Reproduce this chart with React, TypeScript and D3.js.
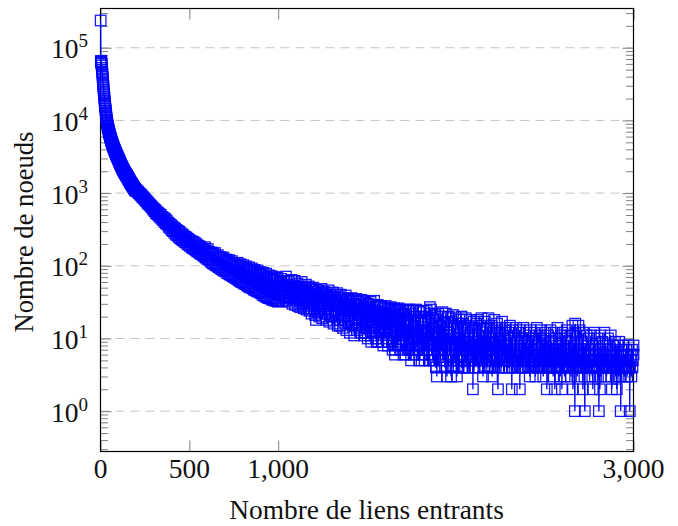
import { useEffect, useRef } from "react";
import * as d3 from "d3";

const WIDTH = 678;
const HEIGHT = 526;
const BLUE = "#0000ff";
const SERIF = "'Liberation Serif', 'Times New Roman', serif";

// degrees 1..200, one by one
const headCounts = [
  237000, 65000, 66000, 62000, 64000, 60000, 57000, 53000, 50000, 46000,
  43000, 40000, 37000, 34500, 32000, 29800, 27800, 26000, 24300, 22800,
  21400, 20200, 19000, 17900, 16900, 16000, 15200, 14400, 13700, 13000,
  12400, 11800, 11300, 10800, 10300, 9900, 9500, 9150, 8850, 8550,
  8300, 8100, 7850, 7650, 7450, 7250, 7100, 6950, 6800, 6650,
  6500, 6350, 6200, 6050, 5950, 5800, 5700, 5600, 5480, 5380,
  5280, 5190, 5080, 5000, 4910, 4830, 4740, 4670, 4590, 4510,
  4440, 4370, 4300, 4240, 4170, 4110, 4050, 3990, 3930, 3880,
  3820, 3770, 3710, 3660, 3610, 3560, 3510, 3470, 3420, 3380,
  3330, 3290, 3250, 3210, 3170, 3130, 3090, 3050, 3010, 2980,
  2930, 2900, 2850, 2820, 2770, 2750, 2700, 2680, 2630, 2600,
  2570, 2530, 2510, 2460, 2450, 2400, 2390, 2350, 2340, 2300,
  2270, 2250, 2210, 2200, 2150, 2140, 2110, 2090, 2080, 2050,
  2030, 2000, 1990, 1960, 1950, 1920, 1910, 1890, 1880, 1860,
  1840, 1830, 1800, 1790, 1770, 1760, 1740, 1730, 1720, 1700,
  1680, 1670, 1640, 1640, 1610, 1600, 1590, 1560, 1550, 1530,
  1520, 1500, 1490, 1470, 1460, 1440, 1430, 1420, 1400, 1390,
  1380, 1370, 1350, 1340, 1330, 1320, 1300, 1300, 1280, 1270,
  1260, 1250, 1240, 1220, 1220, 1200, 1200, 1180, 1170, 1170,
  1150, 1150, 1130, 1130, 1110, 1120, 1090, 1100, 1080, 1090,
];

// degrees 204..1000, every 4
const midCounts = [
  1080, 1050, 1040, 1000, 985, 960, 935, 925, 880, 875,
  850, 825, 815, 780, 775, 735, 740, 705, 695, 680,
  665, 640, 635, 595, 610, 565, 585, 530, 560, 510,
  535, 490, 515, 465, 500, 445, 470, 425, 455, 400,
  440, 385, 420, 370, 395, 345, 380, 330, 365, 310,
  350, 300, 335, 285, 325, 270, 312, 262, 300, 250,
  295, 240, 280, 230, 270, 225, 262, 215, 250, 210,
  245, 200, 235, 195, 228, 188, 220, 180, 215, 175,
  212, 170, 205, 165, 198, 158, 190, 155, 186, 148,
  180, 145, 172, 140, 168, 135, 180, 130, 160, 125,
  170, 122, 155, 118, 148, 112, 152, 108, 145, 106,
  150, 102, 135, 100, 140, 96, 128, 94, 132, 90,
  125, 88, 130, 85, 118, 84, 122, 80, 115, 78,
  120, 76, 110, 74, 116, 72, 105, 70, 108, 68,
  100, 66, 110, 64, 98, 62, 105, 60, 95, 59,
  102, 57, 92, 56, 98, 54, 88, 52, 95, 51,
  84, 50, 92, 49, 82, 47, 88, 46, 78, 45,
  86, 44, 76, 43, 82, 42, 74, 40, 80, 39,
  70, 38, 78, 37, 68, 36, 74, 36, 66, 35,
  72, 34, 64, 34, 70, 33, 62, 33, 68, 32,
];

// degrees 1004..3000, every 4
const tailCounts = [
  40, 58, 36, 66, 44, 52, 33, 62, 38, 48, 71, 34, 55, 41, 60, 32, 50, 37, 64,
  30, 54, 40, 62, 29, 47, 35, 57, 28, 44, 52, 27, 38, 60, 30, 46, 26, 50, 34, 55,
  25, 43, 31, 52, 24, 40, 48, 22, 33, 50, 26, 44, 21, 38, 47, 23, 35, 45, 20, 41,
  30, 48, 19, 36, 44, 22, 33, 42, 18, 39, 28, 46, 17, 31, 40, 20, 36, 43, 16, 30,
  38, 21, 34, 42, 15, 29, 37, 18, 40, 24, 33, 14, 36, 20, 30, 39, 13, 27, 35, 17,
  34, 12, 28, 36, 16, 25, 33, 11, 30, 19, 35, 13, 26, 32, 15, 29, 12, 34, 18, 24,
  33, 11, 22, 31, 14, 27, 10, 30, 17, 25, 32, 9, 21, 29, 12, 33, 15, 24, 10, 28,
  29, 9, 20, 27, 12, 28, 16, 23, 8, 26, 14, 28, 10, 22, 26, 9, 25, 13, 27, 18,
  24, 7, 20, 26, 11, 25, 8, 23, 15, 26, 9, 19, 25, 7, 22, 12, 24, 10, 21, 6,
  25, 13, 7, 24, 10, 25, 16, 5, 22, 9, 24, 12, 6, 20, 25, 8, 18, 11, 24, 5,
  23, 8, 16, 6, 24, 10, 5, 20, 13, 24, 7, 17, 5, 22, 9, 25, 6, 14, 19, 5,
  21, 8, 4, 18, 11, 22, 6, 15, 5, 20, 9, 23, 5, 13, 17, 7, 22, 4, 12, 19,
  20, 6, 11, 4, 17, 8, 21, 5, 14, 7, 19, 5, 10, 16, 4, 18, 9, 6, 20, 4,
  16, 7, 12, 4, 19, 9, 5, 15, 4, 11, 18, 6, 8, 14, 4, 17, 7, 10, 5, 16,
  18, 4, 11, 7, 15, 5, 19, 6, 9, 13, 4, 17, 8, 5, 14, 4, 19, 10, 6, 12,
  15, 4, 9, 6, 18, 5, 12, 7, 16, 5, 10, 4, 14, 8, 4, 17, 6, 11, 5, 13,
  14, 4, 8, 5, 12, 4, 15, 6, 10, 4, 13, 7, 5, 11, 5, 14, 9, 4, 6, 12,
  13, 4, 7, 10, 4, 14, 5, 9, 4, 12, 6, 8, 4, 11, 3, 13, 7, 5, 10, 4,
  12, 5, 3, 9, 14, 4, 7, 4, 11, 6, 13, 4, 8, 3, 10, 5, 12, 4, 7, 4,
  11, 4, 6, 13, 4, 9, 5, 3, 12, 7, 4, 10, 4, 14, 6, 4, 8, 3, 11, 5,
  12, 4, 7, 3, 10, 5, 13, 4, 6, 9, 4, 11, 3, 5, 15, 4, 8, 4, 12, 6,
  10, 3, 7, 4, 13, 5, 4, 9, 4, 12, 6, 3, 8, 4, 11, 4, 5, 10, 3, 7,
  11, 4, 3, 8, 5, 12, 4, 6, 4, 10, 3, 7, 5, 11, 3, 4, 9, 4, 6, 12,
  4, 8, 3, 5, 10, 4, 4, 7, 11, 3, 5, 8, 4, 4, 9, 3, 6, 4, 8, 3,
  9, 3, 5, 7, 4, 4, 8, 3, 6, 4, 7, 3, 5, 8, 4, 4, 6, 3, 7, 5,
  8,
];

// second reading of the tail, degrees 1002..2994, every 8
const tailFill = [
  52, 46, 60, 42, 54, 38, 50, 44, 36, 48, 40, 52, 34, 44, 38, 50, 32, 42, 30, 46,
  36, 28, 40, 34, 44, 26, 38, 30, 24, 36, 42, 28, 32, 22, 38, 26, 34, 20, 30, 36,
  24, 28, 18, 34, 22, 30, 26, 16, 32, 20, 28, 24, 15, 30, 18, 26, 22, 14, 28, 16,
  24, 12, 26, 18, 22, 11, 24, 15, 20, 10, 22, 13, 18, 9, 20, 12, 16, 8, 19, 14,
  10, 17, 7, 15, 11, 18, 8, 13, 6, 16, 9, 12, 7, 15, 10, 6, 14, 8, 11, 5,
  13, 9, 6, 12, 7, 10, 5, 14, 8, 6, 11, 4, 9, 12, 5, 7, 10, 4, 8, 6,
  11, 5, 9, 4, 7, 10, 5, 6, 8, 4, 9, 5, 7, 4, 10, 6, 5, 8, 4, 7,
  9, 4, 6, 5, 8, 4, 7, 5, 9, 4, 6, 8, 4, 5, 7, 4, 9, 5, 6, 4,
  8, 5, 4, 7, 6, 4, 8, 5, 4, 6, 7, 4, 5, 8, 4, 6, 5, 4, 7, 5,
  4, 6, 8, 4, 5, 6, 4, 7, 5, 4, 6, 4, 7, 5, 4, 6, 5, 4, 7, 4,
  5, 6, 4, 5, 7, 4, 5, 4, 6, 4, 5, 6, 4, 5, 4, 6, 5, 4, 5, 6,
  4, 5, 4, 6, 4, 5, 4, 5, 6, 4, 5, 4, 5, 4, 6, 4, 5, 4, 5, 4,
  5, 4, 6, 4, 5, 4, 5, 4, 5, 4,
];

// isolated low and high points read one by one
const outlierDegrees = [
  1213, 1348, 1470, 1555, 1640, 1657, 1757, 1854, 1870, 1893, 1950, 1973, 2006, 2040,
  2096, 2153, 2204, 2237, 2315, 2360,
  2512, 2557, 2597, 2659, 2670, 2715, 2726, 2771, 2805, 2811, 2878, 2906, 2928, 2979,
  2672, 2690, 3000,
];
const outlierCounts = [
  18, 15, 12, 9, 9, 6, 7, 27, 5, 3, 3, 3, 3, 4,
  2, 3, 3, 2, 2, 2,
  2, 2, 2, 2, 1, 2, 1, 2, 1, 2, 2, 2, 1, 1,
  16, 15, 6,
];

const xTicks = [0, 500, 1000, 3000];
const decades = [0, 1, 2, 3, 4, 5];

export default function App() {
  const svgRef = useRef<SVGSVGElement | null>(null);

  useEffect(() => {
    const svg = d3.select(svgRef.current);
    svg.selectAll("*").remove();

    const x = d3.scaleLinear().domain([0, 3000]).range([100.5, 633.5]);
    // axis ends a bit beyond the decades, pgfplots style
    const y = d3.scaleLog().domain([10 ** -0.555, 10 ** 5.54]).range([451.5, 8.5]);

    const points = d3.sort(
      [
        ...headCounts.map((v, i) => [i + 1, v]),
        ...midCounts.map((v, i) => [204 + i * 4, v]),
        ...tailCounts.map((v, i) => [1004 + i * 4, v]),
        ...tailFill.map((v, i) => [1002 + i * 8, v]),
        ...outlierDegrees.map((d, i) => [d, outlierCounts[i]]),
      ],
      (p) => p[0]
    );

    const majors = decades.map((d) => 10 ** d);
    const minors: number[] = [];
    for (let d = -1; d <= 5; d++) {
      for (let m = 2; m <= 9; m++) {
        const v = m * 10 ** d;
        if (y(v) >= 8.5 && y(v) <= 451.5) minors.push(v);
      }
    }

    // grid
    svg.append("g").selectAll("line").data(majors).enter().append("line")
      .attr("x1", 100.5).attr("x2", 633.5)
      .attr("y1", (d) => y(d)).attr("y2", (d) => y(d))
      .attr("stroke", "#c4c4c4").attr("stroke-width", 1).attr("stroke-dasharray", "9,6");

    // ticks on all four sides
    const styleTicks = (g: any) => {
      g.select(".domain").remove();
      g.selectAll("line").attr("stroke", "#808080").attr("stroke-width", 1);
      g.selectAll("text").remove();
    };
    svg.append("g").attr("transform", "translate(0,451.5)")
      .call(d3.axisBottom(x).tickValues(xTicks).tickSize(-11)).call(styleTicks);
    svg.append("g").attr("transform", "translate(0,8.5)")
      .call(d3.axisTop(x).tickValues(xTicks).tickSize(-11)).call(styleTicks);
    svg.append("g").attr("transform", "translate(100.5,0)")
      .call(d3.axisLeft(y).tickValues(majors).tickSize(-11)).call(styleTicks);
    svg.append("g").attr("transform", "translate(100.5,0)")
      .call(d3.axisLeft(y).tickValues(minors).tickSize(-7.5)).call(styleTicks);
    svg.append("g").attr("transform", "translate(633.5,0)")
      .call(d3.axisRight(y).tickValues(majors).tickSize(-11)).call(styleTicks);
    svg.append("g").attr("transform", "translate(633.5,0)")
      .call(d3.axisRight(y).tickValues(minors).tickSize(-7.5)).call(styleTicks);

    // frame
    svg.append("rect")
      .attr("x", 100.5).attr("y", 8.5).attr("width", 533).attr("height", 443)
      .attr("fill", "none").attr("stroke", "#000").attr("stroke-width", 1.2);

    // series
    const line = d3.line<number[]>().x((p) => x(p[0])).y((p) => y(p[1]));
    svg.append("path").datum(points)
      .attr("d", line)
      .attr("fill", "none").attr("stroke", BLUE).attr("stroke-width", 1.3);
    const size = 10.5;
    svg.append("g").selectAll("rect").data(points).enter().append("rect")
      .attr("x", (p) => x(p[0]) - size / 2).attr("y", (p) => y(p[1]) - size / 2)
      .attr("width", size).attr("height", size)
      .attr("fill", "none").attr("stroke", BLUE).attr("stroke-width", 1.3).attr("stroke-opacity", 0.9);

    // tick labels
    const fmt = d3.format(",");
    svg.append("g").selectAll("text").data(xTicks).enter().append("text")
      .attr("x", (d) => x(d)).attr("y", 478)
      .attr("text-anchor", "middle").attr("font-family", SERIF).attr("font-size", 27.5).attr("fill", "#111")
      .text((d) => fmt(d));

    const yLabels = svg.append("g").selectAll("text").data(decades).enter().append("text")
      .attr("x", 88).attr("y", (d) => y(10 ** d) + 10.5)
      .attr("text-anchor", "end").attr("font-family", SERIF).attr("font-size", 27.5).attr("fill", "#111");
    yLabels.append("tspan").text("10");
    yLabels.append("tspan").attr("dy", -11).attr("font-size", 19).text((d) => d);

    // axis titles
    svg.append("text")
      .attr("x", 366.5).attr("y", 519)
      .attr("text-anchor", "middle").attr("font-family", SERIF).attr("font-size", 27.4).attr("fill", "#111")
      .text("Nombre de liens entrants");
    svg.append("text")
      .attr("transform", "translate(33,232) rotate(-90)")
      .attr("text-anchor", "middle").attr("font-family", SERIF).attr("font-size", 26.6).attr("fill", "#111")
      .text("Nombre de noeuds");
  }, []);

  return (
    <svg
      ref={svgRef}
      width={WIDTH}
      height={HEIGHT}
      style={{ position: "absolute", left: 0, top: 0, background: "#fff" }}
    />
  );
}
